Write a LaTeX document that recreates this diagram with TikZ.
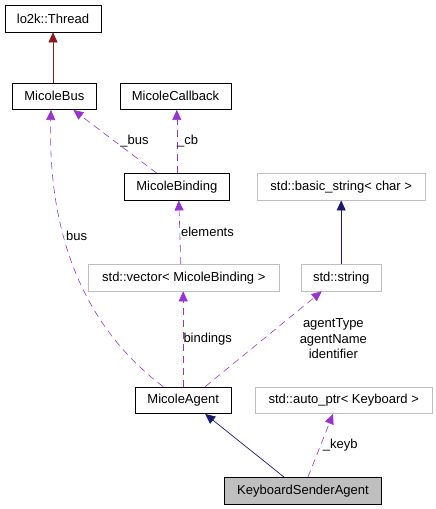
\documentclass[tikz,border=0pt]{standalone}
\usepackage{fontspec}
\setmainfont{Liberation Sans}
\usepackage{xcolor}
\usetikzlibrary{arrows.meta}
\definecolor{membpurple}{HTML}{9A32CD}
\definecolor{inhblue}{HTML}{191970}
\definecolor{inhred}{HTML}{8B1A1A}
\definecolor{boxgray}{HTML}{BFBFBF}
\tikzset{
  >={Triangle[length=10pt,width=9pt]},
  cls/.style  = {draw, line width=0.8pt, inner sep=2pt, minimum height=26.5pt, font=\fontsize{13}{15.5}\selectfont},
  ext/.style  = {cls, draw=boxgray},
  cur/.style  = {cls, fill=boxgray},
  inh/.style  = {->, draw=inhblue, line width=0.7pt},
  inhr/.style = {->, draw=inhred, line width=0.7pt},
  memb/.style = {->, draw=membpurple, line width=0.6pt, dash pattern=on 7pt off 5pt},
  lbl/.style  = {inner sep=0pt, font=\fontsize{13}{15.5}\selectfont, text=black}
}

\begin{document}
\begin{tikzpicture}[x=1pt, y=-1pt]
\useasboundingbox (0,0) rectangle (436,509);

\node[cls, minimum width=96pt]    (Thr)   at (53,18.7)    {lo2k::Thread};
\node[cls, minimum width=84pt]    (Bus)   at (54.3,96.3)  {MicoleBus};
\node[cls, minimum width=111pt]   (Cb)    at (175.5,96.3) {MicoleCallback};
\node[cls, minimum width=105pt]   (Bind)  at (176.8,186.8) {MicoleBinding};
\node[ext, minimum width=167.7pt] (BStr)  at (341.2,186.8) {std::basic\_string< char >};
\node[ext, minimum width=191pt]   (Vec)   at (183.8,277.7) {std::vector< MicoleBinding >};
\node[ext, minimum width=80.3pt]  (Str)   at (341.2,277.7) {std::string};
\node[cls, minimum width=95.7pt]  (Agent) at (183.2,400.3) {MicoleAgent};
\node[ext, minimum width=177.3pt] (APtr)  at (343.7,400.3) {std::auto\_ptr< Keyboard >};
\node[cur, minimum width=157.4pt] (KSA)   at (303,490.7)   {KeyboardSenderAgent};

\draw[inhr] (Bus.north -| Thr.south) -- (Thr.south);
\draw[inh] (Str.north) -- (Str.north |- BStr.south);
\draw[inh] ([xshift=-19pt]KSA.north) -- ([xshift=22pt]Agent.south);

\draw[memb] ([xshift=-20pt]Bind.north) -- node[lbl, right=5pt] {\_bus} ([xshift=19pt]Bus.south);
\draw[memb] (Bind.north) -- node[lbl, right] {\_cb} (Bind.north |- Cb.south);
\draw[memb] ([xshift=-3pt]Vec.north) -- node[lbl, right=1pt] {elements} ([xshift=2pt]Bind.south);
\draw[memb] ([xshift=-20pt]Agent.north) .. controls (75,320) and (48,220) .. node[lbl, right=2pt, pos=.6] {bus} ([xshift=-3.3pt]Bus.south);
\draw[memb] (Agent.north) -- node[lbl, right] {bindings} (Agent.north |- Vec.south);
\draw[memb] ([xshift=22pt]Agent.north) -- node[lbl, right=36pt, align=center] {agentType\\agentName\\identifier} ([xshift=-19.5pt]Str.south);
\draw[memb] ([xshift=5pt]KSA.north) -- node[lbl, right=2pt] {\_keyb} ([xshift=-10.7pt]APtr.south);
\end{tikzpicture}
\end{document}
